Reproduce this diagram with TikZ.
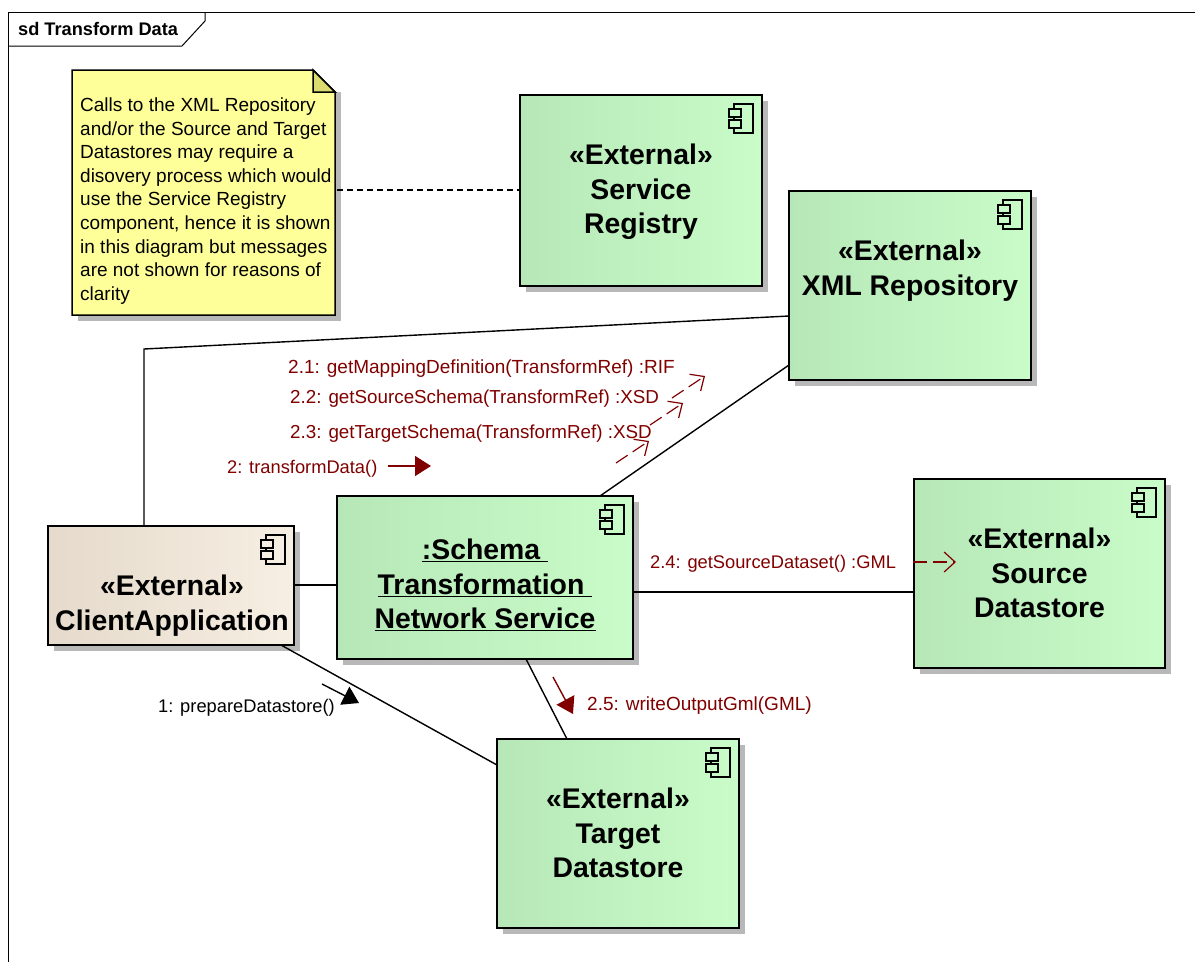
\documentclass[tikz,border=0pt]{standalone}
\usepackage{fontspec}
\setmainfont{Liberation Sans}
\usetikzlibrary{arrows.meta,shadows,shadings}
\definecolor{msgred}{HTML}{800000}
\definecolor{greenL}{HTML}{B7E7B7}
\definecolor{greenR}{HTML}{C9FCC9}
\definecolor{tanL}{HTML}{E5DACB}
\definecolor{tanR}{HTML}{F7EFE3}
\definecolor{noteY}{HTML}{FFFF99}
\definecolor{foldY}{HTML}{DBDB70}
\tikzset{
  box/.style={draw=black,line width=1.5pt,inner sep=0pt,outer sep=0pt,anchor=north west,
    drop shadow={shadow xshift=6pt,shadow yshift=-6pt,fill=black!28,opacity=1}},
  greenbox/.style={box,left color=greenL,right color=greenR},
  tanbox/.style={box,left color=tanL,right color=tanR},
  biglabel/.style={font=\bfseries\fontsize{28.4}{34.4}\selectfont,align=center,inner sep=0pt,anchor=north},
  msg/.style={inner sep=0pt,anchor=base west},
  msgA/.style={msg,font=\fontsize{19}{22}\selectfont},
  msgB/.style={msg,font=\fontsize{18.8}{22}\selectfont},
  msgC/.style={msg,font=\fontsize{18.3}{22}\selectfont},
  conn/.style={line width=1.4pt,draw=black},
  solidmsg/.style={line width=1.4pt,-{Triangle[length=16pt,width=20pt]}},
  openmsg/.style={line width=1.2pt,msgred,dash pattern=on 14pt off 6pt,-{Straight Barb[length=11pt,width=20pt]}},
}
\newcommand{\compicon}[2]{%
  \begin{scope}[shift={(#1.north east)},line width=1.4pt]
    \draw (-28,9) rectangle (-9,38);
    \draw[fill=#2] (-33,14) rectangle (-21,22);
    \draw[fill=#2] (-33,25) rectangle (-21,33);
  \end{scope}}
\begin{document}
\begin{tikzpicture}[x=1pt,y=-1pt]
\useasboundingbox[fill=white] (0,0) rectangle (1195,962);
% frame
\draw[line width=1pt] (8,962) -- (8,12) -- (1195,12);
\draw[line width=1pt] (205,12) -- (205,21) -- (182,46) -- (8,46);
\node[font=\bfseries\fontsize{18.2}{21}\selectfont,inner sep=0pt,anchor=base west] (title) at (18,35) {sd Transform Data};
% note
\fill[black!28] (78,76) -- (341,76) -- (341,321) -- (78,321) -- cycle;
\fill[white] (313,70) -- (335,92) -- (341,92) -- (341,70) -- cycle;
\draw[line width=1.5pt,fill=noteY] (72,70) -- (313,70) -- (335,92) -- (335,315) -- (72,315) -- cycle;
\draw[line width=1.5pt,fill=foldY] (313,70) -- (335,92) -- (313,92) -- cycle;
\coordinate (noteE) at (337,190);
\node[font=\fontsize{19}{23.6}\selectfont,align=left,inner sep=0pt,anchor=north west] (note) at (80,97.5) {Calls to the XML Repository\\and/or the Source and Target\\Datastores may require a\\disovery process which would\\use the Service Registry\\component, hence it is shown\\in this diagram but messages\\are not shown for reasons of\\clarity};
% boxes
\node[greenbox,minimum width=242pt,minimum height=191pt] (service) at (520,95) {};
\node[greenbox,minimum width=242pt,minimum height=189pt] (xml) at (789,191) {};
\node[tanbox,minimum width=246pt,minimum height=119pt] (client) at (48,526) {};
\node[greenbox,minimum width=296pt,minimum height=163pt] (schema) at (337,496) {};
\node[greenbox,minimum width=251pt,minimum height=189pt] (source) at (914,479) {};
\node[greenbox,minimum width=242pt,minimum height=189pt] (target) at (497,739) {};
\compicon{service}{greenR}\compicon{xml}{greenR}\compicon{schema}{greenR}\compicon{source}{greenR}\compicon{target}{greenR}\compicon{client}{tanR}
% box labels
\node[biglabel] (servicelbl) at ([yshift=-49pt]service.north) {«External»\\Service\\Registry};
\node[biglabel] (xmllbl) at ([yshift=-49pt]xml.north) {«External»\\XML Repository};
\node[biglabel] (clientlbl) at ([yshift=-49pt,xshift=1pt]client.north) {«External»\\ClientApplication};
\node[biglabel] (schemalbl) at ([yshift=-43pt]schema.north) {\underline{:Schema\ }\\\underline{Transformation\ }\\\underline{Network Service}};
\node[biglabel] (sourcelbl) at ([yshift=-49pt]source.north) {«External»\\Source\\Datastore};
\node[biglabel] (targetlbl) at ([yshift=-49pt]target.north) {«External»\\Target\\Datastore};
% connectors
\draw[line width=1.2pt,dash pattern=on 6pt off 4pt] (noteE) -- ([yshift=-95pt]service.north west);
\coordinate (bend) at (144,349);
\draw[conn] ([xshift=96pt]client.north west) -- (bend) -- ([yshift=-125pt]xml.north west);
\draw[conn] ([yshift=-59pt]client.north east) -- ([yshift=-89pt]schema.north west);
\draw[conn] ([xshift=263pt]schema.north west) -- ([yshift=-174pt]xml.north west);
\draw[conn] ([yshift=-96pt]schema.north east) -- ([yshift=-113pt]source.north west);
\draw[conn] ([xshift=189pt]schema.south west) -- ([xshift=70pt]target.north west);
\draw[conn] ([xshift=233pt]client.south west) -- ([yshift=-26pt]target.north west);
% messages
\coordinate (m1a) at (322,684); \coordinate (m1b) at (359,703);
\coordinate (m2a) at (388,466); \coordinate (m2b) at (431,466);
\coordinate (m21a) at (672,398); \coordinate (m21b) at (705,376);
\coordinate (m22a) at (650,425); \coordinate (m22b) at (683,403);
\coordinate (m23a) at (616,463); \coordinate (m23b) at (649,441);
\coordinate (m24a) at (913,562); \coordinate (m24b) at (956,562);
\coordinate (m25a) at (553,677); \coordinate (m25b) at (573,714);
\draw[solidmsg,black] (m1a) -- (m1b);
\draw[solidmsg,msgred] (m2a) -- (m2b);
\draw[solidmsg,msgred] (m25a) -- (m25b);
\draw[openmsg] (m21a) -- (m21b);
\draw[openmsg] (m22a) -- (m22b);
\draw[openmsg] (m23a) -- (m23b);
\draw[openmsg] (m24a) -- (m24b);
\node[msgA,text=msgred] (l21) at (288,373) {2.1: getMappingDefinition(TransformRef) :RIF};
\node[msgB,text=msgred] (l22) at (290,403) {2.2: getSourceSchema(TransformRef) :XSD};
\node[msgB,text=msgred] (l23) at (290,438) {2.3: getTargetSchema(TransformRef) :XSD};
\node[msgC,text=msgred] (l2) at (227,473) {2: transformData()};
\node[msgC,text=msgred] (l24) at (650,568) {2.4: getSourceDataset() :GML};
\node[msgA,text=msgred] (l25) at (587,710) {2.5: writeOutputGml(GML)};
\node[msgC] (l1) at (158,712) {1: prepareDatastore()};
\end{tikzpicture}
\end{document}
